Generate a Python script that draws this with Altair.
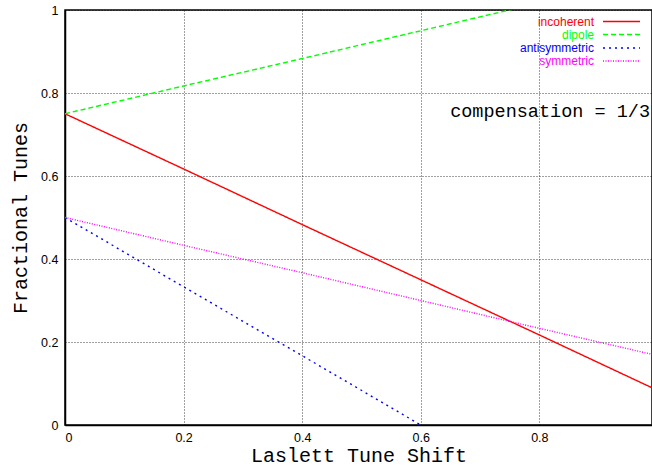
import altair as alt
import pandas as pd

# values
x_shift = [0.0, 0.2, 0.4, 0.6, 0.8, 1.0]
incoherent = [0.75, 0.617, 0.483, 0.35, 0.217, 0.083]
dipole = [0.75, 0.817, 0.883, 0.95, 1.017, 1.083]
x_anti = [0.0, 0.2, 0.4, 0.6]
antisymmetric = [0.5, 0.333, 0.167, 0.0]
symmetric = [0.5, 0.433, 0.367, 0.3, 0.233, 0.167]

series_names = ["incoherent", "dipole", "antisymmetric", "symmetric"]
series_colors = ["#ff0000", "#00ff00", "#0000ff", "#ff00ff"]
series_dashes = [[1, 0], [5, 3], [2, 4], [1, 1.5]]

rows = []
for name, xs, ys in [("incoherent", x_shift, incoherent),
                     ("dipole", x_shift, dipole),
                     ("antisymmetric", x_anti, antisymmetric),
                     ("symmetric", x_shift, symmetric)]:
    for i, (xv, yv) in enumerate(zip(xs, ys)):
        rows.append({"series": name, "x": xv, "y": yv, "order": i})
df = pd.DataFrame(rows)

W, H = 587, 415

color_scale = alt.Scale(domain=series_names, range=series_colors)
dash_scale = alt.Scale(domain=series_names, range=series_dashes)

lines = alt.Chart(df).mark_line(clip=True, strokeWidth=1.4).encode(
    x=alt.X("x:Q", scale=alt.Scale(domain=[0, 0.99], nice=False, zero=False),
            axis=alt.Axis(values=[0, 0.2, 0.4, 0.6, 0.8], format="~g",
                          title="Laslett Tune Shift")),
    y=alt.Y("y:Q", scale=alt.Scale(domain=[0, 1], nice=False),
            axis=alt.Axis(values=[0, 0.2, 0.4, 0.6, 0.8, 1], format="~g",
                          title="Fractional Tunes")),
    color=alt.Color("series:N", scale=color_scale, legend=None),
    strokeDash=alt.StrokeDash("series:N", scale=dash_scale, legend=None),
    order="order:Q",
    detail="series:N",
)

layers = [lines]
legend_y = [11.5, 24.5, 38, 51]
for name, col, dash, yy in zip(series_names, series_colors, series_dashes, legend_y):
    ldf = pd.DataFrame({"series": [name]})
    layers.append(alt.Chart(ldf).mark_text(
        align="right", baseline="middle", font="Liberation Sans", fontSize=12,
        color=col).encode(text="series:N", x=alt.value(529), y=alt.value(yy)))
    layers.append(alt.Chart(ldf).mark_rule(
        color=col, strokeWidth=1.4, strokeDash=dash).encode(
        x=alt.value(538), x2=alt.value(575), y=alt.value(yy)))

comp = alt.Chart(pd.DataFrame({"t": ["compensation = 1/3"]})).mark_text(
    align="right", baseline="alphabetic", font="Liberation Mono", fontSize=18.5,
    color="black").encode(text="t:N", x=alt.value(585), y=alt.value(107))
layers.append(comp)

chart = alt.layer(*layers).properties(
    width=W, height=H,
    autosize=alt.AutoSizeParams(type="none"),
    padding={"left": 65, "top": 10, "right": 0, "bottom": 42},
    background="white",
).configure_view(
    stroke="black", strokeWidth=1.5
).configure_axis(
    domainColor="black", domainWidth=1.5,
    gridColor="#000", gridDash=[1, 2], gridOpacity=0.75, gridWidth=1,
    ticks=False,
    labelFont="Liberation Sans", labelFontSize=12.5, labelColor="black",
    titleFont="Liberation Mono", titleFontSize=20, titleFontWeight="normal",
    titleColor="black",
).configure_axisX(
    labelPadding=6, titlePadding=2,
).configure_axisY(
    labelPadding=7, titlePadding=10,
)

chart.save("out.html", embed_options={"renderer": "svg", "actions": False})
